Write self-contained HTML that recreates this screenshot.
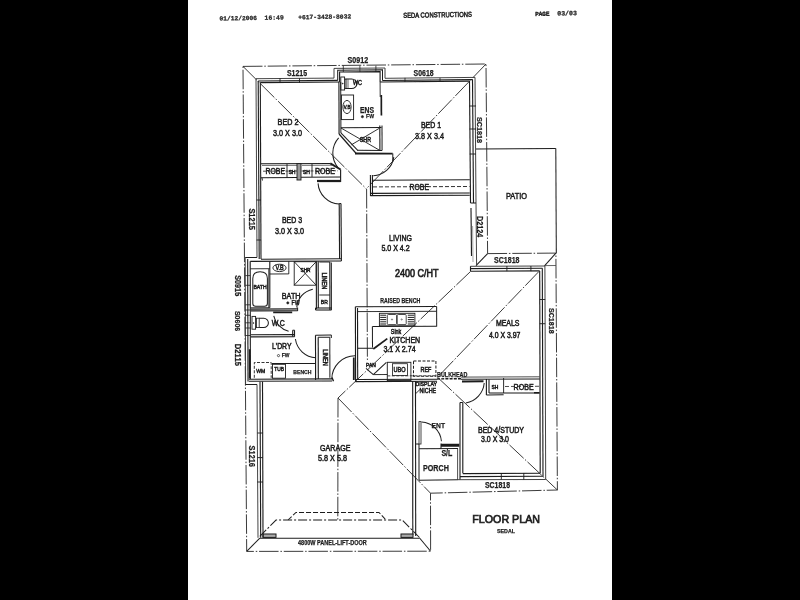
<!DOCTYPE html>
<html><head><meta charset="utf-8"><title>Floor Plan</title>
<style>html,body{margin:0;padding:0;background:#fff;overflow:hidden}svg{display:block}</style>
</head><body>
<svg width="800" height="600" viewBox="0 0 800 600">
<defs><filter id="bl" x="-2%" y="-2%" width="104%" height="104%"><feGaussianBlur stdDeviation="0.42"/></filter></defs>
<rect x="0" y="0" width="800" height="600" fill="#ffffff"/>
<rect x="0" y="0" width="188" height="600" fill="#000000"/>
<rect x="612" y="0" width="188" height="600" fill="#000000"/>
<g filter="url(#bl)" stroke-linecap="butt" stroke-linejoin="miter">
<text x="219.50" y="17.70" textLength="37.50" lengthAdjust="spacingAndGlyphs" font-family="'Liberation Mono',monospace" font-size="6.25" font-weight="bold" fill="#262626" stroke="#262626" stroke-width="0.25" transform="rotate(-0.9 400 16)">01/12/2006</text>
<text x="264.50" y="17.70" textLength="19.20" lengthAdjust="spacingAndGlyphs" font-family="'Liberation Mono',monospace" font-size="6.4" font-weight="bold" fill="#262626" stroke="#262626" stroke-width="0.25" transform="rotate(-0.9 400 16)">16:49</text>
<text x="298.20" y="17.70" textLength="53.00" lengthAdjust="spacingAndGlyphs" font-family="'Liberation Mono',monospace" font-size="6.31" font-weight="bold" fill="#262626" stroke="#262626" stroke-width="0.25" transform="rotate(-0.9 400 16)">+617-3428-8032</text>
<text x="403.20" y="17.90" textLength="68.80" lengthAdjust="spacingAndGlyphs" font-family="'Liberation Sans',sans-serif" font-size="7.08" font-weight="normal" fill="#262626" stroke="#262626" stroke-width="0.5" transform="rotate(-0.9 400 16)">SEDA CONSTRUCTIONS</text>
<text x="535.20" y="18.00" textLength="14.30" lengthAdjust="spacingAndGlyphs" font-family="'Liberation Mono',monospace" font-size="5.96" font-weight="normal" fill="#262626" stroke="#262626" stroke-width="0.5" transform="rotate(-0.9 400 16)">PAGE</text>
<text x="557.20" y="18.00" textLength="19.80" lengthAdjust="spacingAndGlyphs" font-family="'Liberation Mono',monospace" font-size="6.6" font-weight="bold" fill="#262626" stroke="#262626" stroke-width="0.25" transform="rotate(-0.9 400 16)">03/03</text>
<path d="M243.00 66.40 L486.00 64.00 L487.60 253.60" fill="none" stroke="#303030" stroke-width="0.95" stroke-dasharray="19.5 1.8 1.5 1.9"/>
<path d="M487.60 253.60 L555.90 253.10 L557.40 490.00 L430.50 493.20 L430.60 551.20 L246.70 551.40 L243.00 66.40" fill="none" stroke="#303030" stroke-width="0.95" stroke-dasharray="19.5 1.8 1.5 1.9"/>
<line x1="243.00" y1="66.40" x2="366.30" y2="188.80" stroke="#303030" stroke-width="0.95" stroke-dasharray="19.5 1.8 1.5 1.9"/>
<line x1="486.00" y1="64.00" x2="366.30" y2="188.80" stroke="#303030" stroke-width="0.95" stroke-dasharray="19.5 1.8 1.5 1.9"/>
<line x1="366.60" y1="189.00" x2="367.40" y2="360.50" stroke="#303030" stroke-width="0.95" stroke-dasharray="19.5 1.8 1.5 1.9"/>
<line x1="470.50" y1="271.50" x2="338.00" y2="398.00" stroke="#303030" stroke-width="0.95" stroke-dasharray="19.5 1.8 1.5 1.9"/>
<line x1="555.90" y1="253.10" x2="544.50" y2="265.80" stroke="#1c1c1c" stroke-width="1.01"/>
<line x1="538.80" y1="271.60" x2="437.50" y2="377.30" stroke="#303030" stroke-width="0.95" stroke-dasharray="19.5 1.8 1.5 1.9"/>
<line x1="437.50" y1="377.30" x2="557.40" y2="490.00" stroke="#303030" stroke-width="0.95" stroke-dasharray="19.5 1.8 1.5 1.9"/>
<line x1="338.00" y1="398.00" x2="430.50" y2="493.20" stroke="#303030" stroke-width="0.95" stroke-dasharray="19.5 1.8 1.5 1.9"/>
<line x1="338.00" y1="398.00" x2="337.80" y2="520.00" stroke="#303030" stroke-width="0.95" stroke-dasharray="19.5 1.8 1.5 1.9"/>
<line x1="487.60" y1="253.60" x2="476.00" y2="265.60" stroke="#1c1c1c" stroke-width="1.01"/>
<line x1="544.50" y1="265.60" x2="555.90" y2="265.51" stroke="#3a3a3a" stroke-width="0.78"/>
<line x1="256.00" y1="78.70" x2="334.00" y2="78.10" stroke="#3a3a3a" stroke-width="0.95"/>
<line x1="258.20" y1="81.00" x2="337.70" y2="80.40" stroke="#1c1c1c" stroke-width="1.12"/>
<line x1="260.30" y1="82.60" x2="339.60" y2="82.00" stroke="#1c1c1c" stroke-width="1.12"/>
<path d="M334.00 78.10 L334.00 68.40 L385.00 68.00 L385.00 78.30" fill="none" stroke="#3a3a3a" stroke-width="0.95"/>
<path d="M337.70 80.40 L337.70 70.20 L382.50 69.80 L382.50 80.40" fill="none" stroke="#1c1c1c" stroke-width="1.01"/>
<path d="M339.60 82.00 L339.60 72.00 L380.10 71.60 L380.10 82.00" fill="none" stroke="#1c1c1c" stroke-width="1.12"/>
<line x1="385.00" y1="78.30" x2="475.00" y2="77.40" stroke="#3a3a3a" stroke-width="0.95"/>
<line x1="382.50" y1="80.50" x2="472.60" y2="79.60" stroke="#1c1c1c" stroke-width="1.12"/>
<line x1="380.10" y1="82.00" x2="469.60" y2="81.10" stroke="#1c1c1c" stroke-width="1.12"/>
<line x1="475.00" y1="77.40" x2="476.00" y2="203.00" stroke="#3a3a3a" stroke-width="0.95"/>
<line x1="472.50" y1="79.60" x2="473.50" y2="203.00" stroke="#1c1c1c" stroke-width="1.12"/>
<line x1="469.50" y1="81.10" x2="470.50" y2="203.00" stroke="#1c1c1c" stroke-width="1.12"/>
<line x1="470.50" y1="203.00" x2="476.00" y2="203.00" stroke="#1c1c1c" stroke-width="1.01"/>
<line x1="476.00" y1="203.00" x2="476.60" y2="265.60" stroke="#3a3a3a" stroke-width="0.95"/>
<line x1="471.00" y1="208.00" x2="471.50" y2="256.00" stroke="#1c1c1c" stroke-width="1.12"/>
<line x1="472.60" y1="226.00" x2="473.00" y2="262.00" stroke="#777" stroke-width="0.67"/>
<line x1="470.50" y1="266.30" x2="544.90" y2="266.00" stroke="#3a3a3a" stroke-width="0.95"/>
<line x1="470.50" y1="268.60" x2="542.40" y2="268.30" stroke="#1c1c1c" stroke-width="1.12"/>
<line x1="470.50" y1="271.20" x2="539.70" y2="270.90" stroke="#1c1c1c" stroke-width="1.12"/>
<line x1="470.50" y1="266.30" x2="470.50" y2="271.20" stroke="#1c1c1c" stroke-width="1.12"/>
<line x1="544.90" y1="266.00" x2="545.70" y2="479.50" stroke="#3a3a3a" stroke-width="0.95"/>
<line x1="542.30" y1="268.30" x2="543.00" y2="476.30" stroke="#1c1c1c" stroke-width="1.12"/>
<line x1="539.70" y1="270.90" x2="540.20" y2="473.00" stroke="#1c1c1c" stroke-width="1.12"/>
<line x1="462.80" y1="473.60" x2="540.20" y2="473.20" stroke="#1c1c1c" stroke-width="1.12"/>
<line x1="460.00" y1="476.60" x2="543.00" y2="476.20" stroke="#1c1c1c" stroke-width="1.12"/>
<line x1="458.00" y1="479.70" x2="545.70" y2="479.50" stroke="#3a3a3a" stroke-width="0.95"/>
<line x1="460.00" y1="402.50" x2="460.00" y2="479.60" stroke="#1c1c1c" stroke-width="1.12"/>
<line x1="462.80" y1="402.50" x2="462.80" y2="473.20" stroke="#1c1c1c" stroke-width="1.12"/>
<line x1="460.00" y1="402.50" x2="462.80" y2="402.50" stroke="#1c1c1c" stroke-width="1.01"/>
<line x1="419.00" y1="448.80" x2="458.00" y2="448.60" stroke="#1c1c1c" stroke-width="1.01"/>
<line x1="419.00" y1="480.20" x2="458.00" y2="479.70" stroke="#1c1c1c" stroke-width="1.01"/>
<line x1="457.60" y1="448.60" x2="457.60" y2="480.00" stroke="#3a3a3a" stroke-width="0.9"/>
<line x1="412.70" y1="381.00" x2="412.80" y2="535.00" stroke="#1c1c1c" stroke-width="1.12"/>
<line x1="415.50" y1="381.00" x2="415.70" y2="536.00" stroke="#1c1c1c" stroke-width="1.12"/>
<line x1="415.50" y1="444.00" x2="419.00" y2="444.00" stroke="#1c1c1c" stroke-width="1.01"/>
<line x1="419.00" y1="444.00" x2="419.00" y2="480.00" stroke="#1c1c1c" stroke-width="1.01"/>
<rect x="263.00" y="534.00" width="13.00" height="3.40" rx="0" fill="#aaa" stroke="#1c1c1c" stroke-width="1.0"/>
<rect x="401.00" y="534.00" width="12.00" height="3.40" rx="0" fill="#aaa" stroke="#1c1c1c" stroke-width="1.0"/>
<line x1="259.80" y1="538.20" x2="419.80" y2="538.20" stroke="#1c1c1c" stroke-width="1.01"/>
<line x1="259.80" y1="538.20" x2="246.70" y2="551.40" stroke="#1c1c1c" stroke-width="1.01"/>
<line x1="419.80" y1="538.20" x2="430.60" y2="551.20" stroke="#1c1c1c" stroke-width="1.01"/>
<line x1="257.00" y1="384.50" x2="258.00" y2="537.80" stroke="#3a3a3a" stroke-width="0.95"/>
<line x1="260.00" y1="381.70" x2="260.70" y2="537.80" stroke="#1c1c1c" stroke-width="1.12"/>
<line x1="262.50" y1="381.50" x2="263.00" y2="537.50" stroke="#1c1c1c" stroke-width="1.12"/>
<line x1="245.30" y1="384.50" x2="257.00" y2="384.40" stroke="#1c1c1c" stroke-width="1.01"/>
<line x1="245.20" y1="257.50" x2="245.60" y2="383.80" stroke="#3a3a3a" stroke-width="0.95"/>
<line x1="247.70" y1="259.00" x2="248.00" y2="381.50" stroke="#1c1c1c" stroke-width="1.12"/>
<line x1="250.20" y1="261.20" x2="250.40" y2="379.00" stroke="#1c1c1c" stroke-width="1.12"/>
<line x1="245.20" y1="257.50" x2="257.00" y2="257.50" stroke="#1c1c1c" stroke-width="1.01"/>
<line x1="256.00" y1="78.70" x2="257.00" y2="257.50" stroke="#3a3a3a" stroke-width="0.95"/>
<line x1="258.20" y1="81.00" x2="259.20" y2="259.00" stroke="#1c1c1c" stroke-width="1.12"/>
<line x1="260.30" y1="82.60" x2="261.00" y2="259.00" stroke="#1c1c1c" stroke-width="1.12"/>
<line x1="476.00" y1="149.00" x2="555.80" y2="148.40" stroke="#1c1c1c" stroke-width="1.01"/>
<line x1="555.80" y1="148.40" x2="556.30" y2="253.20" stroke="#1c1c1c" stroke-width="1.01"/>
<line x1="280.00" y1="78.30" x2="280.00" y2="83.00" stroke="#1c1c1c" stroke-width="0.9"/>
<line x1="299.50" y1="78.30" x2="299.50" y2="83.00" stroke="#1c1c1c" stroke-width="0.9"/>
<line x1="343.30" y1="65.60" x2="343.30" y2="72.00" stroke="#1c1c1c" stroke-width="0.78"/>
<line x1="359.90" y1="65.60" x2="359.90" y2="72.00" stroke="#1c1c1c" stroke-width="0.78"/>
<line x1="375.90" y1="65.60" x2="375.90" y2="72.00" stroke="#1c1c1c" stroke-width="0.78"/>
<line x1="405.00" y1="77.80" x2="405.00" y2="82.00" stroke="#1c1c1c" stroke-width="0.78"/>
<line x1="440.00" y1="77.80" x2="440.00" y2="82.00" stroke="#1c1c1c" stroke-width="0.78"/>
<line x1="469.60" y1="106.00" x2="476.00" y2="106.00" stroke="#1c1c1c" stroke-width="0.9"/>
<line x1="469.60" y1="129.00" x2="476.00" y2="129.00" stroke="#1c1c1c" stroke-width="0.9"/>
<line x1="469.60" y1="154.00" x2="476.00" y2="154.00" stroke="#1c1c1c" stroke-width="0.9"/>
<line x1="256.50" y1="200.00" x2="261.00" y2="200.00" stroke="#1c1c1c" stroke-width="0.9"/>
<line x1="256.50" y1="240.00" x2="261.00" y2="240.00" stroke="#1c1c1c" stroke-width="0.9"/>
<line x1="506.90" y1="266.00" x2="506.90" y2="271.20" stroke="#1c1c1c" stroke-width="0.9"/>
<line x1="530.90" y1="266.00" x2="530.90" y2="271.20" stroke="#1c1c1c" stroke-width="0.9"/>
<line x1="539.70" y1="299.50" x2="545.20" y2="299.50" stroke="#1c1c1c" stroke-width="0.9"/>
<line x1="539.70" y1="323.70" x2="545.20" y2="323.70" stroke="#1c1c1c" stroke-width="0.9"/>
<line x1="501.30" y1="473.00" x2="501.30" y2="479.60" stroke="#1c1c1c" stroke-width="0.9"/>
<line x1="523.80" y1="473.00" x2="523.80" y2="479.60" stroke="#1c1c1c" stroke-width="0.9"/>
<line x1="257.30" y1="433.00" x2="263.00" y2="433.00" stroke="#1c1c1c" stroke-width="0.9"/>
<line x1="257.30" y1="457.60" x2="263.00" y2="457.60" stroke="#1c1c1c" stroke-width="0.9"/>
<line x1="257.30" y1="482.00" x2="263.00" y2="482.00" stroke="#1c1c1c" stroke-width="0.9"/>
<line x1="245.30" y1="275.60" x2="250.30" y2="275.60" stroke="#1c1c1c" stroke-width="0.78"/>
<line x1="245.30" y1="285.30" x2="250.30" y2="285.30" stroke="#1c1c1c" stroke-width="0.78"/>
<line x1="245.30" y1="304.80" x2="250.30" y2="304.80" stroke="#1c1c1c" stroke-width="0.78"/>
<line x1="245.30" y1="310.00" x2="250.30" y2="310.00" stroke="#1c1c1c" stroke-width="0.78"/>
<line x1="245.30" y1="315.30" x2="250.30" y2="315.30" stroke="#1c1c1c" stroke-width="0.78"/>
<line x1="245.30" y1="322.80" x2="250.30" y2="322.80" stroke="#1c1c1c" stroke-width="0.78"/>
<line x1="245.30" y1="328.00" x2="250.30" y2="328.00" stroke="#1c1c1c" stroke-width="0.78"/>
<line x1="245.30" y1="335.50" x2="250.30" y2="335.50" stroke="#1c1c1c" stroke-width="0.78"/>
<line x1="338.90" y1="82.00" x2="339.10" y2="134.00" stroke="#1c1c1c" stroke-width="1.12"/>
<line x1="340.70" y1="82.00" x2="340.90" y2="133.00" stroke="#1c1c1c" stroke-width="1.01"/>
<line x1="339.10" y1="134.00" x2="356.20" y2="153.50" stroke="#1c1c1c" stroke-width="1.23"/>
<line x1="340.90" y1="132.80" x2="358.00" y2="150.60" stroke="#1c1c1c" stroke-width="1.01"/>
<line x1="355.00" y1="153.50" x2="392.60" y2="153.70" stroke="#1c1c1c" stroke-width="1.79"/>
<line x1="357.50" y1="150.30" x2="382.00" y2="150.50" stroke="#1c1c1c" stroke-width="1.01"/>
<line x1="392.80" y1="153.50" x2="392.80" y2="162.00" stroke="#1c1c1c" stroke-width="1.01"/>
<line x1="380.10" y1="82.00" x2="380.20" y2="97.00" stroke="#1c1c1c" stroke-width="0.9"/>
<line x1="381.30" y1="95.00" x2="381.40" y2="115.50" stroke="#1c1c1c" stroke-width="1.68"/>
<line x1="340.90" y1="127.80" x2="381.50" y2="127.60" stroke="#1c1c1c" stroke-width="1.01"/>
<line x1="379.80" y1="125.60" x2="379.90" y2="150.60" stroke="#1c1c1c" stroke-width="1.12"/>
<line x1="382.00" y1="125.60" x2="382.10" y2="150.60" stroke="#1c1c1c" stroke-width="1.01"/>
<line x1="341.00" y1="128.00" x2="379.80" y2="150.40" stroke="#1c1c1c" stroke-width="0.9"/>
<line x1="379.80" y1="128.00" x2="351.40" y2="144.80" stroke="#1c1c1c" stroke-width="0.9"/>
<text x="359.80" y="142.00" textLength="11.20" lengthAdjust="spacingAndGlyphs" font-family="'Liberation Sans',sans-serif" font-size="6.36" font-weight="normal" fill="#1c1c1c" stroke="#1c1c1c" stroke-width="0.5">SHR</text>
<rect x="340.80" y="77.00" width="3.80" height="13.00" rx="0" fill="none" stroke="#1c1c1c" stroke-width="0.9"/>
<ellipse cx="342.70" cy="83.60" rx="0.50" ry="0.50" fill="#1c1c1c" stroke="#1c1c1c" stroke-width="0.5"/>
<line x1="344.60" y1="79.20" x2="346.00" y2="79.20" stroke="#1c1c1c" stroke-width="0.9"/>
<line x1="344.60" y1="88.40" x2="346.00" y2="88.40" stroke="#1c1c1c" stroke-width="0.9"/>
<path d="M346 79 L351.6 79 A5.3 4.75 0 0 1 351.6 88.5 L346 88.5 Z" fill="none" stroke="#1c1c1c" stroke-width="1.01"/>
<line x1="348.00" y1="79.00" x2="348.00" y2="88.50" stroke="#3a3a3a" stroke-width="0.78"/>
<text x="353.00" y="85.30" textLength="9.00" lengthAdjust="spacingAndGlyphs" font-family="'Liberation Sans',sans-serif" font-size="6.48" font-weight="normal" fill="#1c1c1c" stroke="#1c1c1c" stroke-width="0.5">WC</text>
<rect x="341.40" y="95.00" width="12.20" height="24.60" rx="0" fill="none" stroke="#1c1c1c" stroke-width="0.9"/>
<ellipse cx="347.00" cy="107.00" rx="4.10" ry="6.60" fill="none" stroke="#1c1c1c" stroke-width="0.9"/>
<text x="343.80" y="108.60" textLength="6.60" lengthAdjust="spacingAndGlyphs" font-family="'Liberation Sans',sans-serif" font-size="5.21" font-weight="normal" fill="#1c1c1c" stroke="#1c1c1c" stroke-width="0.5">V.B</text>
<text x="360.00" y="113.00" textLength="14.00" lengthAdjust="spacingAndGlyphs" font-family="'Liberation Sans',sans-serif" font-size="8.17" font-weight="bold" fill="#1c1c1c" stroke="#1c1c1c" stroke-width="0.25">ENS</text>
<ellipse cx="362.40" cy="116.70" rx="1.10" ry="1.10" fill="#1c1c1c" stroke="#1c1c1c" stroke-width="0.6"/>
<text x="366.00" y="118.40" textLength="8.00" lengthAdjust="spacingAndGlyphs" font-family="'Liberation Sans',sans-serif" font-size="6.18" font-weight="bold" fill="#1c1c1c" stroke="#1c1c1c" stroke-width="0.25">FW</text>
<path d="M338.66 137.94 A22.80 22.80 0 0 0 337.88 167.55" fill="none" stroke="#1c1c1c" stroke-width="1.01"/>
<path d="M393.79 157.19 A21.50 21.50 0 0 1 373.25 175.69" fill="none" stroke="#1c1c1c" stroke-width="1.01"/>
<line x1="261.00" y1="163.80" x2="330.50" y2="163.50" stroke="#1c1c1c" stroke-width="1.01"/>
<line x1="262.00" y1="165.40" x2="297.00" y2="165.30" stroke="#3a3a3a" stroke-width="0.78"/>
<line x1="301.90" y1="165.30" x2="332.00" y2="165.20" stroke="#3a3a3a" stroke-width="0.78"/>
<line x1="330.30" y1="163.40" x2="340.60" y2="169.50" stroke="#1c1c1c" stroke-width="2.02"/>
<line x1="340.60" y1="169.50" x2="340.60" y2="182.00" stroke="#1c1c1c" stroke-width="1.12"/>
<line x1="261.00" y1="177.80" x2="297.00" y2="177.60" stroke="#1c1c1c" stroke-width="1.01"/>
<line x1="262.00" y1="177.80" x2="262.50" y2="180.50" stroke="#1c1c1c" stroke-width="0.9"/>
<line x1="287.00" y1="164.00" x2="287.00" y2="177.60" stroke="#1c1c1c" stroke-width="0.9"/>
<rect x="297.00" y="163.60" width="4.00" height="16.40" rx="0" fill="#999" stroke="#1c1c1c" stroke-width="0.9"/>
<line x1="301.00" y1="177.20" x2="340.60" y2="177.00" stroke="#1c1c1c" stroke-width="1.01"/>
<line x1="312.00" y1="164.00" x2="312.00" y2="177.00" stroke="#1c1c1c" stroke-width="0.9"/>
<line x1="317.00" y1="181.00" x2="340.60" y2="181.00" stroke="#1c1c1c" stroke-width="2.24"/>
<line x1="263.00" y1="171.20" x2="297.00" y2="171.00" stroke="#1c1c1c" stroke-width="0.78" stroke-dasharray="3 1.5"/>
<line x1="301.50" y1="171.00" x2="338.00" y2="170.80" stroke="#1c1c1c" stroke-width="0.78" stroke-dasharray="3 1.5"/>
<text x="265.40" y="174.20" textLength="19.60" lengthAdjust="spacingAndGlyphs" font-family="'Liberation Sans',sans-serif" font-size="8.3" font-weight="normal" fill="#1c1c1c" stroke="#1c1c1c" stroke-width="0.5">ROBE</text>
<text x="288.40" y="173.80" textLength="7.20" lengthAdjust="spacingAndGlyphs" font-family="'Liberation Sans',sans-serif" font-size="6.22" font-weight="normal" fill="#1c1c1c" stroke="#1c1c1c" stroke-width="0.5">SH</text>
<text x="303.00" y="173.80" textLength="7.00" lengthAdjust="spacingAndGlyphs" font-family="'Liberation Sans',sans-serif" font-size="6.05" font-weight="normal" fill="#1c1c1c" stroke="#1c1c1c" stroke-width="0.5">SH</text>
<text x="315.00" y="174.20" textLength="20.00" lengthAdjust="spacingAndGlyphs" font-family="'Liberation Sans',sans-serif" font-size="8.47" font-weight="normal" fill="#1c1c1c" stroke="#1c1c1c" stroke-width="0.5">ROBE</text>
<path d="M318.05 183.35 A22.20 22.20 0 0 0 339.04 203.97" fill="none" stroke="#1c1c1c" stroke-width="1.01"/>
<line x1="339.20" y1="203.60" x2="339.60" y2="259.00" stroke="#1c1c1c" stroke-width="1.12"/>
<line x1="341.00" y1="203.60" x2="341.40" y2="261.00" stroke="#1c1c1c" stroke-width="1.12"/>
<line x1="339.20" y1="203.60" x2="341.00" y2="203.60" stroke="#1c1c1c" stroke-width="1.01"/>
<line x1="261.00" y1="259.20" x2="341.40" y2="258.80" stroke="#1c1c1c" stroke-width="1.12"/>
<line x1="370.40" y1="175.00" x2="370.50" y2="196.00" stroke="#1c1c1c" stroke-width="1.12"/>
<line x1="372.40" y1="175.00" x2="372.50" y2="196.00" stroke="#1c1c1c" stroke-width="1.12"/>
<line x1="372.40" y1="180.20" x2="469.80" y2="179.80" stroke="#1c1c1c" stroke-width="1.01"/>
<line x1="373.00" y1="186.90" x2="469.50" y2="186.50" stroke="#1c1c1c" stroke-width="0.9" stroke-dasharray="4 2"/>
<line x1="370.40" y1="193.40" x2="469.80" y2="193.00" stroke="#1c1c1c" stroke-width="1.12"/>
<line x1="370.40" y1="195.60" x2="469.80" y2="195.20" stroke="#1c1c1c" stroke-width="1.12"/>
<text x="409.60" y="189.70" textLength="19.40" lengthAdjust="spacingAndGlyphs" font-family="'Liberation Sans',sans-serif" font-size="8.22" font-weight="normal" fill="#1c1c1c" stroke="#1c1c1c" stroke-width="0.5">ROBE</text>
<line x1="250.30" y1="261.40" x2="341.40" y2="261.00" stroke="#1c1c1c" stroke-width="1.12"/>
<line x1="250.40" y1="268.80" x2="269.80" y2="268.70" stroke="#1c1c1c" stroke-width="0.9"/>
<line x1="269.80" y1="261.30" x2="269.80" y2="307.80" stroke="#1c1c1c" stroke-width="1.12"/>
<line x1="268.60" y1="268.80" x2="268.60" y2="307.80" stroke="#3a3a3a" stroke-width="0.78"/>
<line x1="250.40" y1="307.80" x2="269.80" y2="307.70" stroke="#1c1c1c" stroke-width="0.9"/>
<path d="M252.8 303.5 L252.8 278.5 Q252.8 271.8 260.1 271.8 Q267.4 271.8 267.4 278.5 L267.4 303.5 Q267.4 306.3 264.6 306.3 L255.6 306.3 Q252.8 306.3 252.8 303.5 Z" fill="none" stroke="#1c1c1c" stroke-width="1.01"/>
<text x="253.40" y="289.10" textLength="13.30" lengthAdjust="spacingAndGlyphs" font-family="'Liberation Sans',sans-serif" font-size="6.16" font-weight="normal" fill="#1c1c1c" stroke="#1c1c1c" stroke-width="0.5">BATH</text>
<line x1="269.80" y1="274.00" x2="288.80" y2="273.90" stroke="#1c1c1c" stroke-width="0.9"/>
<line x1="288.80" y1="261.30" x2="288.80" y2="274.00" stroke="#1c1c1c" stroke-width="0.9"/>
<ellipse cx="279.50" cy="267.90" rx="6.60" ry="3.70" fill="none" stroke="#1c1c1c" stroke-width="0.9"/>
<text x="275.40" y="269.90" textLength="8.40" lengthAdjust="spacingAndGlyphs" font-family="'Liberation Sans',sans-serif" font-size="6.64" font-weight="normal" fill="#1c1c1c" stroke="#1c1c1c" stroke-width="0.5">V.B</text>
<rect x="294.20" y="261.70" width="22.00" height="23.50" rx="0" fill="none" stroke="#1c1c1c" stroke-width="0.9"/>
<line x1="294.20" y1="261.70" x2="316.20" y2="285.20" stroke="#1c1c1c" stroke-width="0.9"/>
<line x1="316.20" y1="261.70" x2="294.20" y2="285.20" stroke="#1c1c1c" stroke-width="0.9"/>
<text x="300.50" y="272.20" textLength="10.00" lengthAdjust="spacingAndGlyphs" font-family="'Liberation Sans',sans-serif" font-size="5.69" font-weight="normal" fill="#1c1c1c" stroke="#1c1c1c" stroke-width="0.5">SHR</text>
<line x1="316.30" y1="261.20" x2="316.40" y2="309.20" stroke="#1c1c1c" stroke-width="1.12"/>
<line x1="318.20" y1="261.20" x2="318.30" y2="308.00" stroke="#1c1c1c" stroke-width="1.12"/>
<line x1="319.30" y1="262.00" x2="329.80" y2="262.00" stroke="#1c1c1c" stroke-width="0.9"/>
<line x1="319.30" y1="295.00" x2="329.80" y2="295.00" stroke="#1c1c1c" stroke-width="0.9"/>
<line x1="329.80" y1="262.00" x2="329.90" y2="310.00" stroke="#1c1c1c" stroke-width="1.12"/>
<line x1="331.30" y1="262.60" x2="331.40" y2="310.00" stroke="#1c1c1c" stroke-width="1.01"/>
<line x1="315.50" y1="308.00" x2="331.50" y2="308.00" stroke="#1c1c1c" stroke-width="1.12"/>
<line x1="315.50" y1="310.00" x2="331.50" y2="310.00" stroke="#1c1c1c" stroke-width="1.12"/>
<line x1="315.50" y1="308.00" x2="315.50" y2="310.00" stroke="#1c1c1c" stroke-width="1.01"/>
<text x="321.80" y="272.50" textLength="16.80" lengthAdjust="spacingAndGlyphs" font-family="'Liberation Sans',sans-serif" font-size="6.84" font-weight="normal" fill="#1c1c1c" stroke="#1c1c1c" stroke-width="0.5" transform="rotate(90 321.80 272.50)">LINEN</text>
<text x="320.80" y="303.80" textLength="7.00" lengthAdjust="spacingAndGlyphs" font-family="'Liberation Sans',sans-serif" font-size="6.05" font-weight="normal" fill="#1c1c1c" stroke="#1c1c1c" stroke-width="0.5">BR</text>
<path d="M312.78 289.14 A20.30 20.30 0 0 0 296.75 307.58" fill="none" stroke="#1c1c1c" stroke-width="1.01"/>
<line x1="251.00" y1="309.10" x2="297.60" y2="308.90" stroke="#1c1c1c" stroke-width="1.12"/>
<line x1="251.00" y1="310.90" x2="297.60" y2="310.70" stroke="#1c1c1c" stroke-width="1.12"/>
<line x1="297.60" y1="307.50" x2="297.60" y2="311.00" stroke="#1c1c1c" stroke-width="1.01"/>
<line x1="273.20" y1="312.40" x2="292.20" y2="312.30" stroke="#1c1c1c" stroke-width="1.79"/>
<text x="281.80" y="299.40" textLength="18.70" lengthAdjust="spacingAndGlyphs" font-family="'Liberation Sans',sans-serif" font-size="8.65" font-weight="normal" fill="#1c1c1c" stroke="#1c1c1c" stroke-width="0.5">BATH</text>
<ellipse cx="287.80" cy="302.90" rx="1.10" ry="1.10" fill="#1c1c1c" stroke="#1c1c1c" stroke-width="0.6"/>
<text x="291.50" y="304.60" textLength="8.30" lengthAdjust="spacingAndGlyphs" font-family="'Liberation Sans',sans-serif" font-size="6.41" font-weight="bold" fill="#1c1c1c" stroke="#1c1c1c" stroke-width="0.25">FW</text>
<rect x="252.00" y="316.40" width="3.60" height="12.80" rx="0" fill="none" stroke="#1c1c1c" stroke-width="0.9"/>
<ellipse cx="253.50" cy="323.00" rx="0.50" ry="0.50" fill="#1c1c1c" stroke="#1c1c1c" stroke-width="0.5"/>
<rect x="256.40" y="318.20" width="2.80" height="9.40" rx="0" fill="none" stroke="#1c1c1c" stroke-width="0.8"/>
<line x1="255.60" y1="319.00" x2="256.40" y2="319.00" stroke="#1c1c1c" stroke-width="0.78"/>
<line x1="255.60" y1="327.00" x2="256.40" y2="327.00" stroke="#1c1c1c" stroke-width="0.78"/>
<path d="M259.2 318.2 L263.7 318.2 A4.7 4.7 0 0 1 263.7 327.6 L259.2 327.6" fill="none" stroke="#1c1c1c" stroke-width="1.01"/>
<text x="271.70" y="326.30" textLength="13.10" lengthAdjust="spacingAndGlyphs" font-family="'Liberation Sans',sans-serif" font-size="8.33" font-weight="normal" fill="#1c1c1c" stroke="#1c1c1c" stroke-width="0.5">W.C</text>
<path d="M273.74 315.80 A20.20 20.20 0 0 0 288.61 331.20" fill="none" stroke="#1c1c1c" stroke-width="1.01"/>
<line x1="251.00" y1="334.80" x2="294.50" y2="334.60" stroke="#1c1c1c" stroke-width="1.12"/>
<line x1="251.00" y1="336.90" x2="294.50" y2="336.70" stroke="#1c1c1c" stroke-width="1.12"/>
<line x1="292.70" y1="330.20" x2="292.70" y2="336.80" stroke="#1c1c1c" stroke-width="1.12"/>
<line x1="294.50" y1="330.20" x2="294.50" y2="336.80" stroke="#1c1c1c" stroke-width="1.12"/>
<line x1="292.70" y1="330.20" x2="294.50" y2="330.20" stroke="#1c1c1c" stroke-width="1.01"/>
<text x="272.00" y="349.20" textLength="19.50" lengthAdjust="spacingAndGlyphs" font-family="'Liberation Sans',sans-serif" font-size="8.24" font-weight="normal" fill="#1c1c1c" stroke="#1c1c1c" stroke-width="0.5">L'DRY</text>
<ellipse cx="278.50" cy="355.60" rx="1.10" ry="1.10" fill="none" stroke="#1c1c1c" stroke-width="0.7"/>
<text x="281.80" y="357.00" textLength="7.70" lengthAdjust="spacingAndGlyphs" font-family="'Liberation Sans',sans-serif" font-size="5.94" font-weight="bold" fill="#1c1c1c" stroke="#1c1c1c" stroke-width="0.25">FW</text>
<path d="M295.41 339.03 A21.80 21.80 0 0 0 315.86 357.77" fill="none" stroke="#1c1c1c" stroke-width="1.01"/>
<line x1="315.50" y1="335.20" x2="331.30" y2="335.00" stroke="#1c1c1c" stroke-width="1.12"/>
<line x1="318.20" y1="337.30" x2="329.80" y2="337.20" stroke="#1c1c1c" stroke-width="1.01"/>
<line x1="315.50" y1="335.20" x2="315.60" y2="380.00" stroke="#1c1c1c" stroke-width="1.12"/>
<line x1="318.20" y1="337.30" x2="318.30" y2="379.00" stroke="#1c1c1c" stroke-width="1.12"/>
<line x1="329.80" y1="337.20" x2="329.90" y2="377.80" stroke="#1c1c1c" stroke-width="1.01"/>
<line x1="331.30" y1="335.00" x2="331.30" y2="338.00" stroke="#1c1c1c" stroke-width="1.01"/>
<text x="323.00" y="349.30" textLength="16.50" lengthAdjust="spacingAndGlyphs" font-family="'Liberation Sans',sans-serif" font-size="6.72" font-weight="normal" fill="#1c1c1c" stroke="#1c1c1c" stroke-width="0.5" transform="rotate(90 323.00 349.30)">LINEN</text>
<line x1="272.00" y1="363.60" x2="315.50" y2="363.40" stroke="#1c1c1c" stroke-width="1.01"/>
<rect x="272.50" y="364.30" width="13.00" height="13.90" rx="0" fill="none" stroke="#1c1c1c" stroke-width="0.9"/>
<text x="274.30" y="371.20" textLength="9.70" lengthAdjust="spacingAndGlyphs" font-family="'Liberation Sans',sans-serif" font-size="5.82" font-weight="normal" fill="#1c1c1c" stroke="#1c1c1c" stroke-width="0.5">TUB</text>
<path d="M254.3 377.8 L254.3 362.5 L271.2 362.5 L271.2 377.8" fill="none" stroke="#1c1c1c" stroke-width="0.9" stroke-dasharray="3 1.5"/>
<text x="256.30" y="373.00" textLength="9.00" lengthAdjust="spacingAndGlyphs" font-family="'Liberation Sans',sans-serif" font-size="6.08" font-weight="normal" fill="#1c1c1c" stroke="#1c1c1c" stroke-width="0.5">WM</text>
<text x="293.30" y="373.90" textLength="18.20" lengthAdjust="spacingAndGlyphs" font-family="'Liberation Sans',sans-serif" font-size="6.14" font-weight="bold" fill="#1c1c1c" stroke="#1c1c1c" stroke-width="0.25">BENCH</text>
<line x1="249.50" y1="349.30" x2="249.60" y2="378.50" stroke="#1c1c1c" stroke-width="1.57"/>
<line x1="248.80" y1="379.20" x2="332.00" y2="378.90" stroke="#1c1c1c" stroke-width="1.12"/>
<line x1="248.80" y1="381.30" x2="332.00" y2="381.00" stroke="#1c1c1c" stroke-width="1.12"/>
<line x1="332.00" y1="377.50" x2="333.50" y2="381.30" stroke="#1c1c1c" stroke-width="1.34"/>
<path d="M355.00 355.80 A23.20 23.20 0 0 0 331.80 379.00" fill="none" stroke="#1c1c1c" stroke-width="1.01"/>
<line x1="353.80" y1="357.50" x2="353.80" y2="380.00" stroke="#1c1c1c" stroke-width="1.79"/>
<text x="380.30" y="303.20" textLength="39.90" lengthAdjust="spacingAndGlyphs" font-family="'Liberation Sans',sans-serif" font-size="6.29" font-weight="bold" fill="#1c1c1c" stroke="#1c1c1c" stroke-width="0.25">RAISED BENCH</text>
<line x1="355.40" y1="306.70" x2="436.60" y2="306.40" stroke="#1c1c1c" stroke-width="1.01"/>
<line x1="357.50" y1="311.60" x2="436.60" y2="311.30" stroke="#1c1c1c" stroke-width="0.9"/>
<line x1="436.60" y1="306.40" x2="436.70" y2="326.40" stroke="#1c1c1c" stroke-width="1.01"/>
<line x1="372.40" y1="326.60" x2="436.70" y2="326.30" stroke="#1c1c1c" stroke-width="1.01"/>
<line x1="372.40" y1="326.60" x2="372.50" y2="347.60" stroke="#1c1c1c" stroke-width="1.01"/>
<line x1="355.40" y1="306.70" x2="355.60" y2="381.50" stroke="#1c1c1c" stroke-width="1.12"/>
<line x1="357.50" y1="308.00" x2="357.70" y2="379.50" stroke="#1c1c1c" stroke-width="1.12"/>
<line x1="357.60" y1="348.30" x2="373.30" y2="348.20" stroke="#1c1c1c" stroke-width="1.01"/>
<line x1="373.30" y1="349.00" x2="387.30" y2="338.60" stroke="#1c1c1c" stroke-width="1.79"/>
<line x1="366.00" y1="368.40" x2="373.30" y2="374.60" stroke="#1c1c1c" stroke-width="1.01"/>
<line x1="373.30" y1="374.60" x2="386.40" y2="362.30" stroke="#1c1c1c" stroke-width="1.01"/>
<line x1="373.30" y1="374.60" x2="387.30" y2="374.50" stroke="#1c1c1c" stroke-width="0.9"/>
<text x="366.00" y="367.10" textLength="9.90" lengthAdjust="spacingAndGlyphs" font-family="'Liberation Sans',sans-serif" font-size="5.99" font-weight="normal" fill="#1c1c1c" stroke="#1c1c1c" stroke-width="0.5">PAN</text>
<rect x="387.30" y="362.30" width="23.60" height="18.30" rx="0" fill="none" stroke="#1c1c1c" stroke-width="0.9"/>
<rect x="392.50" y="363.70" width="14.90" height="11.70" rx="0" fill="none" stroke="#1c1c1c" stroke-width="0.8"/>
<text x="393.40" y="372.30" textLength="12.20" lengthAdjust="spacingAndGlyphs" font-family="'Liberation Sans',sans-serif" font-size="6.76" font-weight="normal" fill="#1c1c1c" stroke="#1c1c1c" stroke-width="0.5">UBO</text>
<path d="M413.5 360.9 L435.9 360.9 L435.9 376.2 L413.5 376.2 Z" fill="none" stroke="#1c1c1c" stroke-width="1.01" stroke-dasharray="3 1.5"/>
<text x="420.50" y="372.00" textLength="10.90" lengthAdjust="spacingAndGlyphs" font-family="'Liberation Sans',sans-serif" font-size="6.54" font-weight="normal" fill="#1c1c1c" stroke="#1c1c1c" stroke-width="0.5">REF</text>
<line x1="387.30" y1="375.90" x2="436.50" y2="375.70" stroke="#1c1c1c" stroke-width="0.78" stroke-dasharray="3 1.5"/>
<line x1="355.40" y1="379.50" x2="437.00" y2="379.20" stroke="#1c1c1c" stroke-width="1.12"/>
<line x1="355.40" y1="381.60" x2="437.00" y2="381.30" stroke="#1c1c1c" stroke-width="1.12"/>
<rect x="379.40" y="313.30" width="35.50" height="12.50" rx="0" fill="none" stroke="#1c1c1c" stroke-width="0.9"/>
<rect x="387.30" y="314.50" width="9.30" height="10.10" rx="1" fill="none" stroke="#1c1c1c" stroke-width="0.8"/>
<rect x="397.20" y="314.50" width="9.00" height="10.10" rx="1" fill="none" stroke="#1c1c1c" stroke-width="0.8"/>
<line x1="380.20" y1="315.20" x2="386.20" y2="315.20" stroke="#1c1c1c" stroke-width="1.01"/>
<line x1="407.80" y1="315.20" x2="414.20" y2="315.20" stroke="#1c1c1c" stroke-width="1.01"/>
<line x1="380.20" y1="317.40" x2="386.20" y2="317.40" stroke="#1c1c1c" stroke-width="1.01"/>
<line x1="407.80" y1="317.40" x2="414.20" y2="317.40" stroke="#1c1c1c" stroke-width="1.01"/>
<line x1="380.20" y1="319.60" x2="386.20" y2="319.60" stroke="#1c1c1c" stroke-width="1.01"/>
<line x1="407.80" y1="319.60" x2="414.20" y2="319.60" stroke="#1c1c1c" stroke-width="1.01"/>
<line x1="380.20" y1="321.80" x2="386.20" y2="321.80" stroke="#1c1c1c" stroke-width="1.01"/>
<line x1="407.80" y1="321.80" x2="414.20" y2="321.80" stroke="#1c1c1c" stroke-width="1.01"/>
<line x1="380.20" y1="324.00" x2="386.20" y2="324.00" stroke="#1c1c1c" stroke-width="1.01"/>
<line x1="407.80" y1="324.00" x2="414.20" y2="324.00" stroke="#1c1c1c" stroke-width="1.01"/>
<ellipse cx="392.00" cy="319.50" rx="0.60" ry="0.60" fill="none" stroke="#1c1c1c" stroke-width="0.5"/>
<ellipse cx="401.70" cy="319.50" rx="0.60" ry="0.60" fill="none" stroke="#1c1c1c" stroke-width="0.5"/>
<text x="390.80" y="333.50" textLength="10.50" lengthAdjust="spacingAndGlyphs" font-family="'Liberation Sans',sans-serif" font-size="6.48" font-weight="normal" fill="#1c1c1c" stroke="#1c1c1c" stroke-width="0.5">Sink</text>
<text x="389.40" y="342.80" textLength="30.80" lengthAdjust="spacingAndGlyphs" font-family="'Liberation Sans',sans-serif" font-size="8.42" font-weight="normal" fill="#1c1c1c" stroke="#1c1c1c" stroke-width="0.5">KITCHEN</text>
<text x="383.40" y="351.90" textLength="32.20" lengthAdjust="spacingAndGlyphs" font-family="'Liberation Sans',sans-serif" font-size="8.47" font-weight="normal" fill="#1c1c1c" stroke="#1c1c1c" stroke-width="0.5">3.1 X 2.74</text>
<text x="437.10" y="377.00" textLength="30.20" lengthAdjust="spacingAndGlyphs" font-family="'Liberation Sans',sans-serif" font-size="6.46" font-weight="bold" fill="#1c1c1c" stroke="#1c1c1c" stroke-width="0.25">BULKHEAD</text>
<line x1="437.00" y1="378.90" x2="461.00" y2="378.70" stroke="#1c1c1c" stroke-width="1.46" stroke-dasharray="3 1.2"/>
<text x="415.40" y="386.30" textLength="21.60" lengthAdjust="spacingAndGlyphs" font-family="'Liberation Sans',sans-serif" font-size="6.24" font-weight="normal" fill="#1c1c1c" stroke="#1c1c1c" stroke-width="0.5">DISPLAY</text>
<text x="419.40" y="392.50" textLength="16.80" lengthAdjust="spacingAndGlyphs" font-family="'Liberation Sans',sans-serif" font-size="6.48" font-weight="normal" fill="#1c1c1c" stroke="#1c1c1c" stroke-width="0.5">NICHE</text>
<line x1="415.30" y1="394.00" x2="421.00" y2="388.50" stroke="#1c1c1c" stroke-width="0.9"/>
<line x1="461.00" y1="377.10" x2="539.70" y2="376.80" stroke="#3a3a3a" stroke-width="0.9"/>
<line x1="461.00" y1="379.30" x2="539.70" y2="379.00" stroke="#1c1c1c" stroke-width="1.12"/>
<line x1="462.00" y1="381.40" x2="483.50" y2="381.30" stroke="#1c1c1c" stroke-width="2.02"/>
<line x1="486.40" y1="379.00" x2="486.40" y2="395.00" stroke="#1c1c1c" stroke-width="1.12"/>
<line x1="489.00" y1="379.60" x2="489.00" y2="393.00" stroke="#1c1c1c" stroke-width="1.12"/>
<line x1="486.40" y1="395.00" x2="503.60" y2="394.80" stroke="#1c1c1c" stroke-width="1.12"/>
<line x1="489.00" y1="393.10" x2="534.00" y2="392.90" stroke="#1c1c1c" stroke-width="1.01"/>
<line x1="503.60" y1="378.00" x2="503.60" y2="393.00" stroke="#1c1c1c" stroke-width="0.9"/>
<line x1="534.00" y1="392.90" x2="539.60" y2="392.80" stroke="#1c1c1c" stroke-width="1.79"/>
<line x1="505.00" y1="386.50" x2="539.00" y2="386.30" stroke="#1c1c1c" stroke-width="0.78" stroke-dasharray="4 2"/>
<text x="491.60" y="388.70" textLength="6.80" lengthAdjust="spacingAndGlyphs" font-family="'Liberation Sans',sans-serif" font-size="5.87" font-weight="normal" fill="#1c1c1c" stroke="#1c1c1c" stroke-width="0.5">SH</text>
<text x="513.60" y="389.50" textLength="20.00" lengthAdjust="spacingAndGlyphs" font-family="'Liberation Sans',sans-serif" font-size="8.47" font-weight="normal" fill="#1c1c1c" stroke="#1c1c1c" stroke-width="0.5">ROBE</text>
<path d="M484.22 382.94 A22.30 22.30 0 0 1 465.87 402.96" fill="none" stroke="#1c1c1c" stroke-width="1.01"/>
<text x="478.00" y="432.70" textLength="46.00" lengthAdjust="spacingAndGlyphs" font-family="'Liberation Sans',sans-serif" font-size="8.42" font-weight="normal" fill="#1c1c1c" stroke="#1c1c1c" stroke-width="0.5">BED 4/STUDY</text>
<text x="481.00" y="441.70" textLength="28.00" lengthAdjust="spacingAndGlyphs" font-family="'Liberation Sans',sans-serif" font-size="8.39" font-weight="normal" fill="#1c1c1c" stroke="#1c1c1c" stroke-width="0.5">3.0 X 3.0</text>
<text x="431.60" y="427.70" textLength="13.40" lengthAdjust="spacingAndGlyphs" font-family="'Liberation Sans',sans-serif" font-size="8.04" font-weight="bold" fill="#1c1c1c" stroke="#1c1c1c" stroke-width="0.25">ENT</text>
<path d="M421.60 422.03 A21.00 21.00 0 0 1 441.42 441.17" fill="none" stroke="#1c1c1c" stroke-width="1.01"/>
<rect x="419.00" y="421.60" width="2.00" height="22.40" rx="0" fill="none" stroke="#1c1c1c" stroke-width="0.8"/>
<line x1="441.00" y1="445.30" x2="459.30" y2="445.20" stroke="#1c1c1c" stroke-width="2.91"/>
<line x1="441.00" y1="443.60" x2="441.00" y2="448.80" stroke="#1c1c1c" stroke-width="1.01"/>
<text x="441.40" y="456.20" textLength="11.00" lengthAdjust="spacingAndGlyphs" font-family="'Liberation Sans',sans-serif" font-size="8.48" font-weight="bold" fill="#1c1c1c" stroke="#1c1c1c" stroke-width="0.25">S/L</text>
<text x="423.00" y="470.80" textLength="25.80" lengthAdjust="spacingAndGlyphs" font-family="'Liberation Sans',sans-serif" font-size="8.57" font-weight="bold" fill="#1c1c1c" stroke="#1c1c1c" stroke-width="0.25">PORCH</text>
<text x="485.00" y="487.60" textLength="25.00" lengthAdjust="spacingAndGlyphs" font-family="'Liberation Sans',sans-serif" font-size="8.3" font-weight="bold" fill="#1c1c1c" stroke="#1c1c1c" stroke-width="0.25">SC1818</text>
<text x="472.30" y="522.80" textLength="67.70" lengthAdjust="spacingAndGlyphs" font-family="'Liberation Sans',sans-serif" font-size="11.55" font-weight="normal" fill="#1c1c1c" stroke="#1c1c1c" stroke-width="0.7">FLOOR PLAN</text>
<text x="497.00" y="532.80" textLength="18.00" lengthAdjust="spacingAndGlyphs" font-family="'Liberation Sans',sans-serif" font-size="5.84" font-weight="bold" fill="#1c1c1c" stroke="#1c1c1c" stroke-width="0.25">SEDAL</text>
<text x="320.00" y="450.70" textLength="30.40" lengthAdjust="spacingAndGlyphs" font-family="'Liberation Sans',sans-serif" font-size="8.52" font-weight="normal" fill="#1c1c1c" stroke="#1c1c1c" stroke-width="0.5">GARAGE</text>
<text x="318.00" y="461.10" textLength="29.00" lengthAdjust="spacingAndGlyphs" font-family="'Liberation Sans',sans-serif" font-size="8.69" font-weight="normal" fill="#1c1c1c" stroke="#1c1c1c" stroke-width="0.5">5.8 X 5.8</text>
<path d="M288.00 520.00 L296.00 512.50 L379.00 512.50 L386.00 520.00" fill="none" stroke="#1c1c1c" stroke-width="1.01" stroke-dasharray="5 2"/>
<path d="M259.80 536.30 L276.00 520.10 L402.30 520.10 L419.50 537.50" fill="none" stroke="#1c1c1c" stroke-width="1.01" stroke-dasharray="9 2 2 2"/>
<text x="298.00" y="545.10" textLength="68.80" lengthAdjust="spacingAndGlyphs" font-family="'Liberation Sans',sans-serif" font-size="6.61" font-weight="bold" fill="#1c1c1c" stroke="#1c1c1c" stroke-width="0.25">4800W PANEL-LIFT-DOOR</text>
<text x="287.00" y="76.10" textLength="20.00" lengthAdjust="spacingAndGlyphs" font-family="'Liberation Sans',sans-serif" font-size="8.3" font-weight="bold" fill="#1c1c1c" stroke="#1c1c1c" stroke-width="0.25">S1215</text>
<text x="347.60" y="62.60" textLength="20.60" lengthAdjust="spacingAndGlyphs" font-family="'Liberation Sans',sans-serif" font-size="8.54" font-weight="bold" fill="#1c1c1c" stroke="#1c1c1c" stroke-width="0.25">S0912</text>
<text x="413.60" y="75.50" textLength="20.00" lengthAdjust="spacingAndGlyphs" font-family="'Liberation Sans',sans-serif" font-size="8.3" font-weight="bold" fill="#1c1c1c" stroke="#1c1c1c" stroke-width="0.25">S0618</text>
<text x="277.60" y="125.10" textLength="20.80" lengthAdjust="spacingAndGlyphs" font-family="'Liberation Sans',sans-serif" font-size="8.64" font-weight="normal" fill="#1c1c1c" stroke="#1c1c1c" stroke-width="0.5">BED 2</text>
<text x="273.00" y="136.10" textLength="29.00" lengthAdjust="spacingAndGlyphs" font-family="'Liberation Sans',sans-serif" font-size="8.69" font-weight="normal" fill="#1c1c1c" stroke="#1c1c1c" stroke-width="0.5">3.0 X 3.0</text>
<text x="421.00" y="127.70" textLength="20.00" lengthAdjust="spacingAndGlyphs" font-family="'Liberation Sans',sans-serif" font-size="8.3" font-weight="normal" fill="#1c1c1c" stroke="#1c1c1c" stroke-width="0.5">BED 1</text>
<text x="415.00" y="138.50" textLength="29.00" lengthAdjust="spacingAndGlyphs" font-family="'Liberation Sans',sans-serif" font-size="8.69" font-weight="normal" fill="#1c1c1c" stroke="#1c1c1c" stroke-width="0.5">3.8 X 3.4</text>
<text x="282.00" y="222.50" textLength="20.00" lengthAdjust="spacingAndGlyphs" font-family="'Liberation Sans',sans-serif" font-size="8.3" font-weight="normal" fill="#1c1c1c" stroke="#1c1c1c" stroke-width="0.5">BED 3</text>
<text x="275.00" y="234.10" textLength="29.00" lengthAdjust="spacingAndGlyphs" font-family="'Liberation Sans',sans-serif" font-size="8.69" font-weight="normal" fill="#1c1c1c" stroke="#1c1c1c" stroke-width="0.5">3.0 X 3.0</text>
<text x="389.00" y="241.10" textLength="23.00" lengthAdjust="spacingAndGlyphs" font-family="'Liberation Sans',sans-serif" font-size="8.41" font-weight="normal" fill="#1c1c1c" stroke="#1c1c1c" stroke-width="0.5">LIVING</text>
<text x="381.40" y="251.40" textLength="28.30" lengthAdjust="spacingAndGlyphs" font-family="'Liberation Sans',sans-serif" font-size="8.48" font-weight="normal" fill="#1c1c1c" stroke="#1c1c1c" stroke-width="0.5">5.0 X 4.2</text>
<text x="395.00" y="276.50" textLength="43.50" lengthAdjust="spacingAndGlyphs" font-family="'Liberation Sans',sans-serif" font-size="11.43" font-weight="normal" fill="#1c1c1c" stroke="#1c1c1c" stroke-width="0.7">2400 C/HT</text>
<text x="506.00" y="198.70" textLength="21.00" lengthAdjust="spacingAndGlyphs" font-family="'Liberation Sans',sans-serif" font-size="8.83" font-weight="normal" fill="#1c1c1c" stroke="#1c1c1c" stroke-width="0.5">PATIO</text>
<text x="494.10" y="263.40" textLength="25.40" lengthAdjust="spacingAndGlyphs" font-family="'Liberation Sans',sans-serif" font-size="8.44" font-weight="bold" fill="#1c1c1c" stroke="#1c1c1c" stroke-width="0.25">SC1818</text>
<text x="495.90" y="326.20" textLength="23.60" lengthAdjust="spacingAndGlyphs" font-family="'Liberation Sans',sans-serif" font-size="8.35" font-weight="normal" fill="#1c1c1c" stroke="#1c1c1c" stroke-width="0.5">MEALS</text>
<text x="488.90" y="338.10" textLength="31.50" lengthAdjust="spacingAndGlyphs" font-family="'Liberation Sans',sans-serif" font-size="8.29" font-weight="normal" fill="#1c1c1c" stroke="#1c1c1c" stroke-width="0.5">4.0 X 3.97</text>
<text x="477.20" y="117.00" textLength="26.00" lengthAdjust="spacingAndGlyphs" font-family="'Liberation Sans',sans-serif" font-size="8.05" font-weight="bold" fill="#1c1c1c" stroke="#1c1c1c" stroke-width="0.25" transform="rotate(90 477.20 117.00)">SC1818</text>
<text x="476.90" y="216.00" textLength="21.40" lengthAdjust="spacingAndGlyphs" font-family="'Liberation Sans',sans-serif" font-size="8.13" font-weight="bold" fill="#1c1c1c" stroke="#1c1c1c" stroke-width="0.25" transform="rotate(90 476.90 216.00)">D2124</text>
<text x="548.60" y="307.90" textLength="25.70" lengthAdjust="spacingAndGlyphs" font-family="'Liberation Sans',sans-serif" font-size="7.96" font-weight="bold" fill="#1c1c1c" stroke="#1c1c1c" stroke-width="0.25" transform="rotate(90 548.60 307.90)">SC1818</text>
<text x="249.20" y="208.40" textLength="21.60" lengthAdjust="spacingAndGlyphs" font-family="'Liberation Sans',sans-serif" font-size="8.37" font-weight="bold" fill="#1c1c1c" stroke="#1c1c1c" stroke-width="0.25" transform="rotate(90 249.20 208.40)">S1215</text>
<text x="235.30" y="275.20" textLength="21.00" lengthAdjust="spacingAndGlyphs" font-family="'Liberation Sans',sans-serif" font-size="8.13" font-weight="bold" fill="#1c1c1c" stroke="#1c1c1c" stroke-width="0.25" transform="rotate(90 235.30 275.20)">S0915</text>
<text x="235.30" y="310.90" textLength="20.40" lengthAdjust="spacingAndGlyphs" font-family="'Liberation Sans',sans-serif" font-size="7.9" font-weight="bold" fill="#1c1c1c" stroke="#1c1c1c" stroke-width="0.25" transform="rotate(90 235.30 310.90)">S0606</text>
<text x="235.30" y="343.80" textLength="22.20" lengthAdjust="spacingAndGlyphs" font-family="'Liberation Sans',sans-serif" font-size="8.6" font-weight="bold" fill="#1c1c1c" stroke="#1c1c1c" stroke-width="0.25" transform="rotate(90 235.30 343.80)">D2115</text>
<text x="249.20" y="445.60" textLength="21.40" lengthAdjust="spacingAndGlyphs" font-family="'Liberation Sans',sans-serif" font-size="8.29" font-weight="bold" fill="#1c1c1c" stroke="#1c1c1c" stroke-width="0.25" transform="rotate(90 249.20 445.60)">S1216</text>
</g>
</svg>
</body></html>
